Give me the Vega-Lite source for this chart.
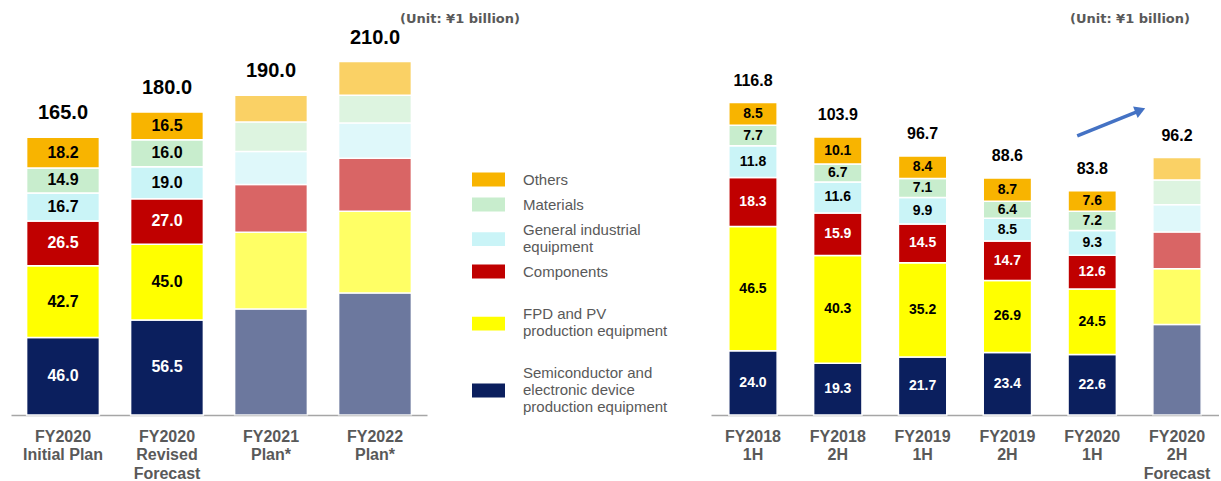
{
  "$schema": "https://vega.github.io/schema/vega-lite/v6.json",
  "padding": {"left": 11, "top": 11, "right": 0, "bottom": 0},
  "background": "white",
  "config": {
    "view": {"stroke": null},
    "font": "Liberation Sans",
    "axis": {"labelFont": "Liberation Sans"},
    "legend": {"labelFont": "Liberation Sans"}
  },
  "datasets": {
    "left": [
      {"period": "FY2020\nInitial Plan", "category": "Semiconductor and electronic device production equipment", "value": 46.0, "status": "Actual"},
      {"period": "FY2020\nInitial Plan", "category": "FPD and PV production equipment", "value": 42.7, "status": "Actual"},
      {"period": "FY2020\nInitial Plan", "category": "Components", "value": 26.5, "status": "Actual"},
      {"period": "FY2020\nInitial Plan", "category": "General industrial equipment", "value": 16.7, "status": "Actual"},
      {"period": "FY2020\nInitial Plan", "category": "Materials", "value": 14.9, "status": "Actual"},
      {"period": "FY2020\nInitial Plan", "category": "Others", "value": 18.2, "status": "Actual"},
      {"period": "FY2020\nRevised\nForecast", "category": "Semiconductor and electronic device production equipment", "value": 56.5, "status": "Actual"},
      {"period": "FY2020\nRevised\nForecast", "category": "FPD and PV production equipment", "value": 45.0, "status": "Actual"},
      {"period": "FY2020\nRevised\nForecast", "category": "Components", "value": 27.0, "status": "Actual"},
      {"period": "FY2020\nRevised\nForecast", "category": "General industrial equipment", "value": 19.0, "status": "Actual"},
      {"period": "FY2020\nRevised\nForecast", "category": "Materials", "value": 16.0, "status": "Actual"},
      {"period": "FY2020\nRevised\nForecast", "category": "Others", "value": 16.5, "status": "Actual"},
      {"period": "FY2021\nPlan*", "category": "Semiconductor and electronic device production equipment", "value": 63.0, "status": "Plan"},
      {"period": "FY2021\nPlan*", "category": "FPD and PV production equipment", "value": 45.5, "status": "Plan"},
      {"period": "FY2021\nPlan*", "category": "Components", "value": 28.5, "status": "Plan"},
      {"period": "FY2021\nPlan*", "category": "General industrial equipment", "value": 19.5, "status": "Plan"},
      {"period": "FY2021\nPlan*", "category": "Materials", "value": 17.5, "status": "Plan"},
      {"period": "FY2021\nPlan*", "category": "Others", "value": 16.0, "status": "Plan"},
      {"period": "FY2022\nPlan*", "category": "Semiconductor and electronic device production equipment", "value": 72.5, "status": "Plan"},
      {"period": "FY2022\nPlan*", "category": "FPD and PV production equipment", "value": 48.5, "status": "Plan"},
      {"period": "FY2022\nPlan*", "category": "Components", "value": 31.5, "status": "Plan"},
      {"period": "FY2022\nPlan*", "category": "General industrial equipment", "value": 21.0, "status": "Plan"},
      {"period": "FY2022\nPlan*", "category": "Materials", "value": 16.5, "status": "Plan"},
      {"period": "FY2022\nPlan*", "category": "Others", "value": 20.0, "status": "Plan"}
    ],
    "leftTotals": [
      {"period": "FY2020\nInitial Plan", "total": 165.0},
      {"period": "FY2020\nRevised\nForecast", "total": 180.0},
      {"period": "FY2021\nPlan*", "total": 190.0},
      {"period": "FY2022\nPlan*", "total": 210.0}
    ],
    "right": [
      {"half": "FY2018\n1H", "category": "Semiconductor and electronic device production equipment", "value": 24.0, "status": "Actual"},
      {"half": "FY2018\n1H", "category": "FPD and PV production equipment", "value": 46.5, "status": "Actual"},
      {"half": "FY2018\n1H", "category": "Components", "value": 18.3, "status": "Actual"},
      {"half": "FY2018\n1H", "category": "General industrial equipment", "value": 11.8, "status": "Actual"},
      {"half": "FY2018\n1H", "category": "Materials", "value": 7.7, "status": "Actual"},
      {"half": "FY2018\n1H", "category": "Others", "value": 8.5, "status": "Actual"},
      {"half": "FY2018\n2H", "category": "Semiconductor and electronic device production equipment", "value": 19.3, "status": "Actual"},
      {"half": "FY2018\n2H", "category": "FPD and PV production equipment", "value": 40.3, "status": "Actual"},
      {"half": "FY2018\n2H", "category": "Components", "value": 15.9, "status": "Actual"},
      {"half": "FY2018\n2H", "category": "General industrial equipment", "value": 11.6, "status": "Actual"},
      {"half": "FY2018\n2H", "category": "Materials", "value": 6.7, "status": "Actual"},
      {"half": "FY2018\n2H", "category": "Others", "value": 10.1, "status": "Actual"},
      {"half": "FY2019\n1H", "category": "Semiconductor and electronic device production equipment", "value": 21.7, "status": "Actual"},
      {"half": "FY2019\n1H", "category": "FPD and PV production equipment", "value": 35.2, "status": "Actual"},
      {"half": "FY2019\n1H", "category": "Components", "value": 14.5, "status": "Actual"},
      {"half": "FY2019\n1H", "category": "General industrial equipment", "value": 9.9, "status": "Actual"},
      {"half": "FY2019\n1H", "category": "Materials", "value": 7.1, "status": "Actual"},
      {"half": "FY2019\n1H", "category": "Others", "value": 8.4, "status": "Actual"},
      {"half": "FY2019\n2H", "category": "Semiconductor and electronic device production equipment", "value": 23.4, "status": "Actual"},
      {"half": "FY2019\n2H", "category": "FPD and PV production equipment", "value": 26.9, "status": "Actual"},
      {"half": "FY2019\n2H", "category": "Components", "value": 14.7, "status": "Actual"},
      {"half": "FY2019\n2H", "category": "General industrial equipment", "value": 8.5, "status": "Actual"},
      {"half": "FY2019\n2H", "category": "Materials", "value": 6.4, "status": "Actual"},
      {"half": "FY2019\n2H", "category": "Others", "value": 8.7, "status": "Actual"},
      {"half": "FY2020\n1H", "category": "Semiconductor and electronic device production equipment", "value": 22.6, "status": "Actual"},
      {"half": "FY2020\n1H", "category": "FPD and PV production equipment", "value": 24.5, "status": "Actual"},
      {"half": "FY2020\n1H", "category": "Components", "value": 12.6, "status": "Actual"},
      {"half": "FY2020\n1H", "category": "General industrial equipment", "value": 9.3, "status": "Actual"},
      {"half": "FY2020\n1H", "category": "Materials", "value": 7.2, "status": "Actual"},
      {"half": "FY2020\n1H", "category": "Others", "value": 7.6, "status": "Actual"},
      {"half": "FY2020\n2H\nForecast", "category": "Semiconductor and electronic device production equipment", "value": 33.8, "status": "Plan"},
      {"half": "FY2020\n2H\nForecast", "category": "FPD and PV production equipment", "value": 20.9, "status": "Plan"},
      {"half": "FY2020\n2H\nForecast", "category": "Components", "value": 13.7, "status": "Plan"},
      {"half": "FY2020\n2H\nForecast", "category": "General industrial equipment", "value": 10.2, "status": "Plan"},
      {"half": "FY2020\n2H\nForecast", "category": "Materials", "value": 9.2, "status": "Plan"},
      {"half": "FY2020\n2H\nForecast", "category": "Others", "value": 8.4, "status": "Plan"}
    ],
    "rightTotals": [
      {"half": "FY2018\n1H", "total": 116.8},
      {"half": "FY2018\n2H", "total": 103.9},
      {"half": "FY2019\n1H", "total": 96.7},
      {"half": "FY2019\n2H", "total": 88.6},
      {"half": "FY2020\n1H", "total": 83.8},
      {"half": "FY2020\n2H\nForecast", "total": 96.2}
    ],
    "trend": [
      {"from": "FY2020\n1H", "to": "FY2020\n2H\nForecast", "start": 104.3, "end": 113.4, "head": 113.9}
    ]
  },
  "resolve": {"scale": {"x": "independent", "y": "independent", "color": "shared", "opacity": "shared"}},
  "bounds": "flush",
  "spacing": 284,
  "hconcat": [
    {
      "width": 416,
      "height": 404,
      "title": {"text": "(Unit: ¥1 billion)", "anchor": "end", "dx": 93, "dy": 14, "offset": -7, "baseline": "middle", "font": "DejaVu Sans", "fontSize": 13, "fontWeight": "bold", "color": "#595959"},
      "layer": [
        {
          "data": {"name": "left"},
          "transform": [{"stack": "value", "groupby": ["period"], "as": ["v0", "v1"]}],
          "mark": {"type": "bar", "stroke": "white", "strokeWidth": 1.5},
          "encoding": {
            "x": {"field": "period", "type": "nominal", "sort": null,
              "scale": {"paddingInner": 0.3, "paddingOuter": 0.15},
              "axis": {"title": null, "labelAngle": 0, "labelExpr": "split(datum.value, '\\n')", "labelFontWeight": "bold", "labelFontSize": 16, "labelColor": "#595959", "labelLineHeight": 18.5, "labelPadding": 13, "ticks": false, "domainColor": "#A6A6A6", "domainWidth": 1.5}},
            "y": {"field": "v1", "type": "quantitative", "scale": {"domain": [0, 240], "nice": false}, "axis": null},
            "y2": {"field": "v0"},
            "color": {"field": "category", "type": "nominal",
              "scale": {"domain": ["Others", "Materials", "General industrial equipment", "Components", "FPD and PV production equipment", "Semiconductor and electronic device production equipment"],
                        "range": ["#F8B400", "#C8EDCD", "#CAF4F7", "#C00000", "#FFFF00", "#0B1F5E"]},
              "legend": {
                "orient": "none", "legendX": 461, "legendY": 152, "title": null,
                "symbolType": {"expr": "datum.value == 'General industrial equipment' ? 'M-1,0.16L1,0.16L1,1L-1,1Z' : datum.value == 'FPD and PV production equipment' ? 'M-1,1.22L1,1.22L1,2.06L-1,2.06Z' : datum.value == 'Semiconductor and electronic device production equipment' ? 'M-1,0.67L1,0.67L1,1.51L-1,1.51Z' : 'M-1,-0.42L1,-0.42L1,0.42L-1,0.42Z'"},
                "symbolSize": 1089, "symbolStrokeWidth": 0, "symbolOpacity": 1,
                "labelFontSize": 15, "labelColor": "#595959", "labelOffset": 18, "labelLimit": 300, "labelLineHeight": 16, "rowPadding": 0, "padding": 0,
                "labelExpr": "datum.label == 'General industrial equipment' ? ['General industrial', 'equipment'] : datum.label == 'FPD and PV production equipment' ? ['', 'FPD and PV', 'production equipment', ''] : datum.label == 'Semiconductor and electronic device production equipment' ? ['Semiconductor and', 'electronic device', 'production equipment'] : datum.label"
              }},
            "opacity": {"field": "status", "type": "nominal", "scale": {"domain": ["Actual", "Plan"], "range": [1, 0.6]}, "legend": null}
          }
        },
        {
          "data": {"name": "left"},
          "transform": [
            {"stack": "value", "groupby": ["period"], "as": ["v0", "v1"]},
            {"filter": "datum.status == 'Actual'"},
            {"calculate": "(datum.v0 + datum.v1) / 2", "as": "mid"}
          ],
          "mark": {"type": "text", "fontSize": 16, "fontWeight": "bold", "baseline": "middle"},
          "encoding": {
            "x": {"field": "period", "type": "nominal", "sort": null},
            "y": {"field": "mid", "type": "quantitative"},
            "text": {"field": "value", "type": "quantitative", "format": ".1f"},
            "color": {"condition": {"test": "datum.category == 'Components' || datum.category == 'Semiconductor and electronic device production equipment'", "value": "white"}, "value": "black"}
          }
        },
        {
          "data": {"name": "leftTotals"},
          "mark": {"type": "text", "fontSize": 20, "fontWeight": "bold", "baseline": "middle", "dy": -24, "color": "black"},
          "encoding": {
            "x": {"field": "period", "type": "nominal", "sort": null},
            "y": {"field": "total", "type": "quantitative"},
            "text": {"field": "total", "type": "quantitative", "format": ".1f"}
          }
        }
      ]
    },
    {
      "width": 508,
      "height": 404,
      "title": {"text": "(Unit: ¥1 billion)", "anchor": "end", "dx": -29, "dy": 14, "offset": -7, "baseline": "middle", "font": "DejaVu Sans", "fontSize": 13, "fontWeight": "bold", "color": "#595959"},
      "layer": [
        {
          "data": {"name": "right"},
          "transform": [{"stack": "value", "groupby": ["half"], "as": ["v0", "v1"]}],
          "mark": {"type": "bar", "stroke": "white", "strokeWidth": 1.5},
          "encoding": {
            "x": {"field": "half", "type": "nominal", "sort": null,
              "scale": {"paddingInner": 0.43, "paddingOuter": 0.21},
              "axis": {"title": null, "labelAngle": 0, "labelExpr": "split(datum.value, '\\n')", "labelFontWeight": "bold", "labelFontSize": 16, "labelColor": "#595959", "labelLineHeight": 18.5, "labelPadding": 13, "ticks": false, "domainColor": "#A6A6A6", "domainWidth": 1.5}},
            "y": {"field": "v1", "type": "quantitative", "scale": {"domain": [0, 151], "nice": false}, "axis": null},
            "y2": {"field": "v0"},
            "color": {"field": "category", "type": "nominal"},
            "opacity": {"field": "status", "type": "nominal"}
          }
        },
        {
          "data": {"name": "right"},
          "transform": [
            {"stack": "value", "groupby": ["half"], "as": ["v0", "v1"]},
            {"filter": "datum.status == 'Actual'"},
            {"calculate": "(datum.v0 + datum.v1) / 2", "as": "mid"}
          ],
          "mark": {"type": "text", "fontSize": 14, "fontWeight": "bold", "baseline": "middle"},
          "encoding": {
            "x": {"field": "half", "type": "nominal", "sort": null},
            "y": {"field": "mid", "type": "quantitative"},
            "text": {"field": "value", "type": "quantitative", "format": ".1f"},
            "color": {"condition": {"test": "datum.category == 'Components' || datum.category == 'Semiconductor and electronic device production equipment'", "value": "white"}, "value": "black"}
          }
        },
        {
          "data": {"name": "rightTotals"},
          "mark": {"type": "text", "fontSize": 16, "fontWeight": "bold", "baseline": "middle", "dy": -22, "color": "black"},
          "encoding": {
            "x": {"field": "half", "type": "nominal", "sort": null},
            "y": {"field": "total", "type": "quantitative"},
            "text": {"field": "total", "type": "quantitative", "format": ".1f"}
          }
        },
        {
          "data": {"name": "trend"},
          "mark": {"type": "rule", "color": "#4472C4", "strokeWidth": 3.5},
          "encoding": {
            "x": {"field": "from", "type": "nominal", "bandPosition": 0.19},
            "x2": {"field": "to", "bandPosition": -0.32},
            "y": {"field": "start", "type": "quantitative"},
            "y2": {"field": "end"}
          }
        },
        {
          "data": {"name": "trend"},
          "mark": {"type": "point", "shape": "triangle-right", "filled": true, "color": "#4472C4", "opacity": 1, "size": 150, "angle": 338},
          "encoding": {
            "x": {"field": "to", "type": "nominal", "bandPosition": -0.26},
            "y": {"field": "head", "type": "quantitative"}
          }
        }
      ]
    }
  ]
}
